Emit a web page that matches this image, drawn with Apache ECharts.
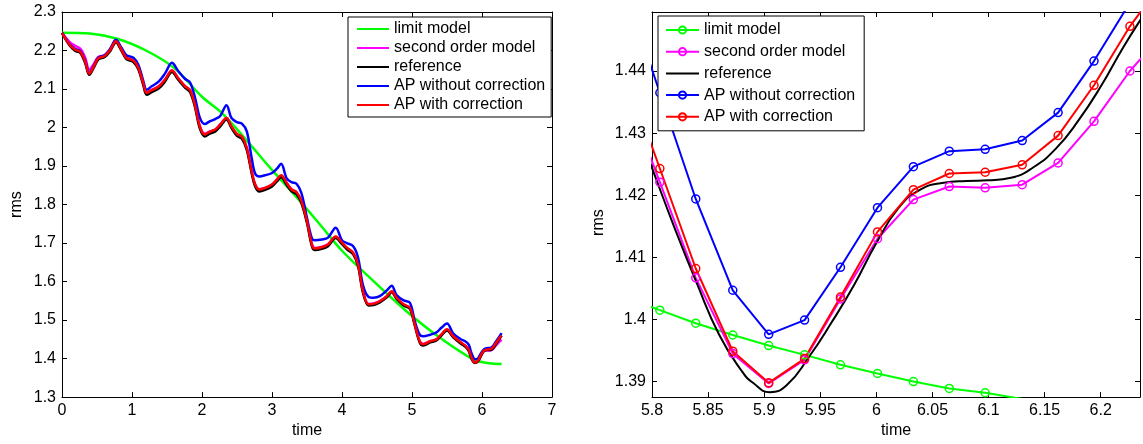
<!DOCTYPE html>
<html><head><meta charset="utf-8">
<script src="https://cdn.jsdelivr.net/npm/echarts@6/dist/echarts.min.js"></script>
<style>html,body{margin:0;padding:0;background:#fff}#c{width:1143px;height:444px}</style>
</head><body><div id="c"></div>
<script>
// ---------- LEFT PLOT DATA ----------
const timeL = [
 0, 0.11, 0.19, 0.26, 0.33, 0.39, 0.45, 0.52, 0.61, 0.69,
 0.77, 0.85, 0.92, 1.02, 1.09, 1.16, 1.21, 1.28, 1.38, 1.47,
 1.57, 1.66, 1.76, 1.83, 1.90, 1.97, 2.04, 2.11, 2.19, 2.26,
 2.35, 2.42, 2.50, 2.57, 2.64, 2.71, 2.76, 2.82, 2.90, 3.00,
 3.07, 3.13, 3.21, 3.28, 3.35, 3.42, 3.50, 3.57, 3.61, 3.71,
 3.80, 3.91, 4.00, 4.07, 4.16, 4.23, 4.30, 4.38, 4.45, 4.54,
 4.64, 4.71, 4.78, 4.88, 4.97, 5.04, 5.11, 5.16, 5.26, 5.35,
 5.42, 5.50, 5.59, 5.69, 5.76, 5.81, 5.84, 5.87, 5.90, 5.94,
 5.97, 6.00, 6.03, 6.07, 6.10, 6.13, 6.16, 6.19, 6.23, 6.28
];
const secondOrderL = [
 2.246, 2.222, 2.212, 2.205, 2.182, 2.150, 2.164, 2.183, 2.188, 2.203,
 2.224, 2.202, 2.181, 2.174, 2.155, 2.116, 2.091, 2.098, 2.107, 2.124,
 2.148, 2.128, 2.107, 2.097, 2.058, 2.003, 1.984, 1.990, 1.995, 2.008,
 2.025, 2.003, 1.983, 1.976, 1.947, 1.886, 1.852, 1.840, 1.843, 1.852,
 1.865, 1.875, 1.856, 1.839, 1.832, 1.809, 1.757, 1.697, 1.687, 1.690,
 1.697, 1.716, 1.700, 1.687, 1.674, 1.643, 1.575, 1.542, 1.543, 1.549,
 1.562, 1.574, 1.557, 1.540, 1.531, 1.489, 1.445, 1.438, 1.445, 1.450,
 1.462, 1.474, 1.456, 1.442, 1.433, 1.422, 1.407, 1.3945, 1.3897, 1.3935,
 1.403, 1.413, 1.419, 1.4214, 1.4212, 1.4217, 1.425, 1.432, 1.440, 1.449
];
const referenceL = [
 2.246, 2.213, 2.199, 2.194, 2.168, 2.137, 2.154, 2.177, 2.183, 2.199,
 2.221, 2.199, 2.178, 2.170, 2.151, 2.111, 2.085, 2.092, 2.101, 2.119,
 2.144, 2.124, 2.103, 2.092, 2.053, 1.997, 1.977, 1.984, 1.990, 2.003,
 2.021, 1.999, 1.978, 1.971, 1.942, 1.881, 1.847, 1.834, 1.838, 1.847,
 1.860, 1.871, 1.851, 1.834, 1.827, 1.804, 1.752, 1.692, 1.682, 1.685,
 1.692, 1.713, 1.697, 1.684, 1.671, 1.640, 1.571, 1.538, 1.539, 1.546,
 1.559, 1.572, 1.555, 1.538, 1.529, 1.486, 1.442, 1.434, 1.442, 1.447,
 1.460, 1.473, 1.455, 1.440, 1.431, 1.420, 1.405, 1.393, 1.3885, 1.392,
 1.401, 1.412, 1.420, 1.422, 1.4224, 1.423, 1.427, 1.435, 1.446, 1.460
];
const apWithoutL = [
 2.246, 2.216, 2.204, 2.199, 2.174, 2.142, 2.159, 2.182, 2.188, 2.205,
 2.228, 2.207, 2.188, 2.181, 2.163, 2.122, 2.098, 2.107, 2.119, 2.140,
 2.168, 2.147, 2.126, 2.117, 2.078, 2.025, 2.009, 2.016, 2.022, 2.030,
 2.058, 2.025, 2.014, 2.010, 1.990, 1.920, 1.880, 1.873, 1.876, 1.882,
 1.893, 1.906, 1.868, 1.858, 1.854, 1.830, 1.765, 1.712, 1.707, 1.709,
 1.714, 1.740, 1.707, 1.700, 1.692, 1.662, 1.590, 1.560, 1.558, 1.562,
 1.577, 1.589, 1.565, 1.551, 1.545, 1.497, 1.462, 1.458, 1.462, 1.468,
 1.480, 1.491, 1.465, 1.451, 1.445, 1.4365, 1.419, 1.405, 1.398, 1.400,
 1.409, 1.418, 1.4245, 1.427, 1.4274, 1.4288, 1.433, 1.4416, 1.452, 1.466
];
const apWithL = [
 2.246, 2.215, 2.202, 2.197, 2.172, 2.140, 2.157, 2.180, 2.186, 2.202,
 2.224, 2.202, 2.181, 2.174, 2.155, 2.116, 2.090, 2.097, 2.106, 2.124,
 2.148, 2.128, 2.107, 2.097, 2.058, 2.002, 1.982, 1.989, 1.995, 2.008,
 2.025, 2.003, 1.983, 1.976, 1.947, 1.886, 1.852, 1.839, 1.843, 1.852,
 1.865, 1.876, 1.856, 1.839, 1.832, 1.809, 1.757, 1.696, 1.686, 1.689,
 1.696, 1.717, 1.701, 1.688, 1.675, 1.644, 1.575, 1.541, 1.542, 1.549,
 1.562, 1.575, 1.558, 1.541, 1.532, 1.489, 1.445, 1.437, 1.445, 1.450,
 1.463, 1.476, 1.458, 1.443, 1.434, 1.423, 1.408, 1.395, 1.390, 1.394,
 1.404, 1.414, 1.421, 1.4235, 1.424, 1.425, 1.430, 1.438, 1.449, 1.460
];
const timeLimitL = [0, 0.4, 0.8, 1.2, 1.6, 2.0, 2.3, 2.64, 3.0, 3.4, 3.7, 4.0, 4.45, 4.92, 5.4, 5.87, 6.0, 6.1, 6.28];
const limitL = [2.246, 2.244, 2.230, 2.200, 2.155, 2.080, 2.035, 1.966, 1.890, 1.809, 1.745, 1.680, 1.601, 1.523, 1.454, 1.398, 1.391, 1.388, 1.386];

// ---------- RIGHT PLOT DATA ----------
const timeR = [5.775, 5.807, 5.839, 5.872, 5.904, 5.936, 5.968, 6.001, 6.033, 6.065, 6.097, 6.130, 6.162, 6.194, 6.226, 6.258];
const limitR = [1.4036, 1.4015, 1.3994, 1.3975, 1.3958, 1.3943, 1.3927, 1.3913, 1.3900, 1.3889, 1.3882, 1.3872, 1.3864, 1.3855, 1.3847, 1.3840];
const secondOrderR = [1.4375, 1.4221, 1.4067, 1.3945, 1.3897, 1.3935, 1.4033, 1.4130, 1.4193, 1.4214, 1.4212, 1.4217, 1.4252, 1.4319, 1.4400, 1.4465];
const apWithoutR = [1.4535, 1.4365, 1.4194, 1.4047, 1.3976, 1.3999, 1.4084, 1.4180, 1.4246, 1.4271, 1.4274, 1.4288, 1.4333, 1.4416, 1.4510, 1.4610];
const apWithR = [1.4404, 1.4243, 1.4082, 1.3949, 1.3898, 1.3937, 1.4036, 1.4141, 1.4209, 1.4235, 1.4237, 1.4249, 1.4296, 1.4377, 1.4472, 1.4550];
const timeRefR = [5.775, 5.8, 5.82, 5.84, 5.86, 5.88, 5.89, 5.905, 5.92, 5.94, 5.96, 5.98, 6.0, 6.02, 6.04, 6.06, 6.08, 6.1, 6.12, 6.14, 6.16, 6.18, 6.2, 6.22, 6.24, 6.26];
const referenceR = [1.4365, 1.4244, 1.4148, 1.4058, 1.3975, 1.3917, 1.3898, 1.3883, 1.3894, 1.3940, 1.3995, 1.4055, 1.4123, 1.4180, 1.4210, 1.4220, 1.4223, 1.4224, 1.4228, 1.4245, 1.4275, 1.4320, 1.4375, 1.4438, 1.4495, 1.4550];

// ---------- TICKS / LABELS ----------
const ticksXR = [5.8, 5.85, 5.9, 5.95, 6, 6.05, 6.1, 6.15, 6.2];
const ticksYR = [1.39, 1.40, 1.41, 1.42, 1.43, 1.44];
const names = ['limit model', 'second order model', 'reference', 'AP without correction', 'AP with correction'];
const colors = ['#00ff00', '#ff00ff', '#000000', '#0000ff', '#ff0000'];

const FONT = '"Liberation Sans", Arial, Helvetica, sans-serif';
const txt = {color: '#000', fontFamily: FONT, fontSize: 16};
const pairs = (t, v) => t.map((x, i) => [x, v[i]]);

function xAx(grid, pos, min, max, extra) {
  const a = {
    gridIndex: grid, type: 'value', position: pos, min: min, max: max,
    axisLine: {show: true, onZero: false, lineStyle: {color: '#000', width: 1}},
    axisTick: {show: true, inside: true, length: 5, lineStyle: {color: '#000', width: 1}},
    axisLabel: {show: pos === 'bottom', margin: 5, ...txt},
    splitLine: {show: false}
  };
  return Object.assign(a, extra || {});
}
function yAx(grid, pos, min, max, extra) {
  const a = {
    gridIndex: grid, type: 'value', position: pos, min: min, max: max,
    axisLine: {show: true, onZero: false, lineStyle: {color: '#000', width: 1}},
    axisTick: {show: true, inside: true, length: 5, lineStyle: {color: '#000', width: 1}},
    axisLabel: {show: pos === 'left', margin: 6, ...txt},
    splitLine: {show: false}
  };
  return Object.assign(a, extra || {});
}

const leftData = [pairs(timeLimitL, limitL), pairs(timeL, secondOrderL), pairs(timeL, referenceL), pairs(timeL, apWithoutL), pairs(timeL, apWithL)];
const rightData = [pairs(timeR, limitR), pairs(timeR, secondOrderR), pairs(timeRefR, referenceR), pairs(timeR, apWithoutR), pairs(timeR, apWithR)];

const series = [];
names.forEach((n, i) => {
  series.push({
    name: n, type: 'line', xAxisIndex: 0, yAxisIndex: 0, data: leftData[i],
    symbol: 'none', smooth: 0.35, clip: true,
    lineStyle: {color: colors[i], width: 2.5}, itemStyle: {color: colors[i]},
    silent: true
  });
});
names.forEach((n, i) => {
  const isRef = i === 2;
  series.push({
    name: 'R:' + n, type: 'line', xAxisIndex: 2, yAxisIndex: 2, data: rightData[i],
    symbol: isRef ? 'none' : 'circle', symbolSize: 8, showSymbol: !isRef,
    smooth: isRef ? 0.5 : false, clip: true,
    lineStyle: {color: colors[i], width: 2},
    itemStyle: {color: 'rgba(255,255,255,0)', borderColor: colors[i], borderWidth: 1.5},
    silent: true
  });
});

const option = {
  animation: false,
  backgroundColor: '#fff',
  grid: [
    {left: 62, top: 12, width: 490, height: 386, containLabel: false},
    {left: 652, top: 12, width: 488, height: 386, containLabel: false}
  ],
  xAxis: [
    xAx(0, 'bottom', 0, 7, {interval: 1, name: 'time', nameLocation: 'middle', nameGap: 25, nameTextStyle: txt}),
    xAx(0, 'top', 0, 7, {interval: 1}),
    xAx(1, 'bottom', 5.8, 6.235, {name: 'time', nameLocation: 'middle', nameGap: 25, nameTextStyle: txt}),
    xAx(1, 'top', 5.8, 6.235, {})
  ],
  yAxis: [
    yAx(0, 'left', 1.3, 2.3, {interval: 0.1, name: 'rms', nameLocation: 'middle', nameGap: 37, nameTextStyle: txt}),
    yAx(0, 'right', 1.3, 2.3, {interval: 0.1}),
    yAx(1, 'left', 1.3875, 1.4495, {name: 'rms', nameLocation: 'middle', nameGap: 45, nameTextStyle: {...txt, padding: [0, 36, 0, 0]}}),
    yAx(1, 'right', 1.3875, 1.4495, {})
  ],
  legend: [
    {
      data: names, orient: 'vertical', left: 348, top: 17, z: 10,
      itemWidth: 32, itemHeight: 14, itemGap: 3, padding: [4, 6, 4, 8],
      backgroundColor: '#fff', borderColor: '#000', borderWidth: 1, borderRadius: 0,
      textStyle: {...txt, lineHeight: 16}, itemStyle: {opacity: 0}, selectedMode: false
    },
    {
      data: names.map((n, i) => i === 2 ? {name: 'R:' + n, itemStyle: {opacity: 0}} : 'R:' + n),
      orient: 'vertical', left: 658, top: 16, z: 10,
      itemWidth: 33, itemHeight: 9, itemGap: 5.7, padding: [6, 9, 6, 7],
      backgroundColor: '#fff', borderColor: '#000', borderWidth: 1, borderRadius: 0,
      textStyle: {...txt, lineHeight: 16}, selectedMode: false,
      formatter: (name) => name.replace(/^R:/, '')
    }
  ],
  series: series
};

// custom ticks for the zoomed plot
option.xAxis[2].axisTick.customValues = ticksXR;
option.xAxis[2].axisLabel.customValues = ticksXR;
option.xAxis[3].axisTick.customValues = ticksXR;
option.yAxis[2].axisTick.customValues = ticksYR;
option.yAxis[2].axisLabel.customValues = ticksYR;
option.yAxis[3].axisTick.customValues = ticksYR;

const chart = echarts.init(document.getElementById('c'), null, {renderer: 'canvas'});
chart.setOption(option);
</script>
</body></html>
